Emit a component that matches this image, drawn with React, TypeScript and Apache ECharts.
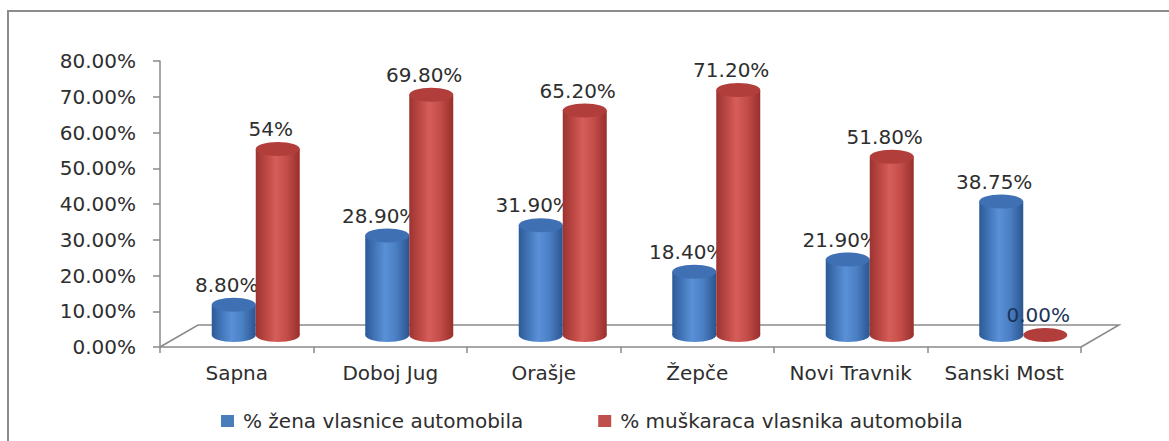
import React, { useEffect, useRef } from "react";
import * as echarts from "echarts";

const categories = ["Sapna", "Doboj Jug", "Orašje", "Žepče", "Novi Travnik", "Sanski Most"];
const femaleValues = [8.8, 28.9, 31.9, 18.4, 21.9, 38.75];
const maleValues = [54, 69.8, 65.2, 71.2, 51.8, 0];
const femaleLabels = ["8.80%", "28.90%", "31.90%", "18.40%", "21.90%", "38.75%"];
const maleLabels = ["54%", "69.80%", "65.20%", "71.20%", "51.80%", "0.00%"];
const seriesNames = ["% žena vlasnice automobila", "% muškaraca vlasnika automobila"];
const yMax = 80;
const yInterval = 10;

const FONT = "DejaVu Sans";
const FS = 20;
const TEXT = "#2e2e2e";
const AXIS = "#8a8a8a";

const BLUE = {
  body: ["#2d5a96", "#4a7fc4", "#5a90d6", "#4a7fc4", "#2b5590"],
  top: "#3f70b3",
  legend: "#4a7ebb",
};
const RED = {
  body: ["#9c3431", "#c44d49", "#d65e5a", "#c44d49", "#982f2c"],
  top: "#b13e3a",
  legend: "#c0504d",
};

const BAR_W = 44;
const RY = 7;
const DEPTH_X = 38;
const DEPTH_Y = 22;

function grad(stops: string[]) {
  return new echarts.graphic.LinearGradient(0, 0, 1, 0, [
    { offset: 0, color: stops[0] },
    { offset: 0.3, color: stops[1] },
    { offset: 0.45, color: stops[2] },
    { offset: 0.7, color: stops[3] },
    { offset: 1, color: stops[4] },
  ]);
}

function makeBarRender(side: number, pal: any, labels: string[]) {
  return (params: any, api: any) => {
    const idx = api.value(0);
    const val = api.value(1);
    const p0 = api.coord([idx, 0]);
    const pv = api.coord([idx, val]);
    const baseY = p0[1] - DEPTH_Y / 2 - 1;
    const h = (p0[1] - pv[1]) * 0.963;
    const topY = baseY - h;
    const cx = p0[0] + DEPTH_X / 2 + side * (BAR_W / 2);
    const children: any[] = [];
    const label = labels[params.dataIndex];
    if (h > 0.5) {
      children.push({
        type: "ellipse",
        shape: { cx, cy: baseY, rx: BAR_W / 2, ry: RY },
        style: { fill: grad(pal.body) },
      });
      children.push({
        type: "rect",
        shape: { x: cx - BAR_W / 2, y: topY, width: BAR_W, height: h },
        style: { fill: grad(pal.body) },
      });
    }
    children.push({
      type: "ellipse",
      shape: { cx, cy: topY, rx: BAR_W / 2, ry: RY },
      style: { fill: pal.top },
    });
    children.push({
      type: "text",
      style: {
        text: label,
        x: cx - 7,
        y: topY - 20,
        textAlign: "center",
        textVerticalAlign: "middle",
        font: `${FS}px "${FONT}"`,
        fill: val === 0 ? "#1c3459" : TEXT,
      },
    });
    return { type: "group", children };
  };
}

export default function App() {
  const ref = useRef<HTMLDivElement>(null);
  useEffect(() => {
    if (!ref.current) return;
    const chart = echarts.init(ref.current, undefined, { renderer: "svg" });
    const option: any = {
      animation: false,
      backgroundColor: "#ffffff",
      textStyle: { fontFamily: FONT },
      grid: { left: 160, right: 88, top: 61, bottom: 94 },
      graphic: [
        {
          type: "rect",
          shape: { x: 8, y: 11, width: 1400, height: 700 },
          style: { fill: "none", stroke: "#8c8c8c", lineWidth: 2 },
          silent: true,
        },
      ],
      legend: {
        left: 216,
        top: 406,
        itemWidth: 13,
        itemHeight: 12,
        itemGap: 75,
        icon: "rect",
        textStyle: { fontFamily: FONT, fontSize: FS, color: TEXT, padding: [0, 0, 0, 4] },
        data: [
          { name: seriesNames[0], itemStyle: { color: BLUE.legend } },
          { name: seriesNames[1], itemStyle: { color: RED.legend } },
        ],
      },
      xAxis: {
        type: "category",
        data: categories,
        axisLine: { lineStyle: { color: AXIS, width: 1.5 } },
        axisTick: { show: true, length: 6, lineStyle: { color: AXIS, width: 1.5 } },
        axisLabel: { color: TEXT, fontSize: FS, fontFamily: FONT, margin: 16, interval: 0 },
        splitLine: { show: false },
      },
      yAxis: {
        type: "value",
        min: 0,
        max: yMax,
        interval: yInterval,
        axisLine: { show: true, lineStyle: { color: AXIS, width: 1.5 } },
        axisTick: { show: true, length: 7, lineStyle: { color: AXIS, width: 1.5 } },
        axisLabel: {
          color: TEXT,
          fontSize: FS,
          fontFamily: FONT,
          margin: 24,
          formatter: (v: number) => v.toFixed(2) + "%",
        },
        splitLine: { show: false },
      },
      series: [
        {
          type: "custom",
          name: "floor",
          silent: true,
          data: [[0, 0]],
          encode: { x: 0, y: 1 },
          z: 1,
          renderItem: (params: any, api: any) => {
            const band = api.size([1, 0])[0];
            const a = api.coord([0, 0]);
            const b = api.coord([categories.length - 1, 0]);
            const x0 = a[0] - band / 2;
            const x1 = b[0] + band / 2;
            const y0 = a[1];
            return {
              type: "polyline",
              shape: {
                points: [
                  [x0, y0],
                  [x0 + DEPTH_X, y0 - DEPTH_Y],
                  [x1 + DEPTH_X, y0 - DEPTH_Y],
                  [x1, y0],
                ],
              },
              style: { stroke: AXIS, lineWidth: 1.5, fill: "none" },
            };
          },
        },
        {
          type: "custom",
          name: seriesNames[0],
          data: categories.map((_, i) => [i, femaleValues[i]]),
          encode: { x: 0, y: 1 },
          itemStyle: { color: BLUE.legend },
          z: 2,
          renderItem: makeBarRender(-1, BLUE, femaleLabels),
        },
        {
          type: "custom",
          name: seriesNames[1],
          data: categories.map((_, i) => [i, maleValues[i]]),
          encode: { x: 0, y: 1 },
          itemStyle: { color: RED.legend },
          z: 3,
          renderItem: makeBarRender(1, RED, maleLabels),
        },
      ],
    };
    chart.setOption(option);
    return () => chart.dispose();
  }, []);
  return (
    <div
      ref={ref}
      style={{ position: "fixed", left: 0, top: 0, width: 1169, height: 441 }}
    />
  );
}
